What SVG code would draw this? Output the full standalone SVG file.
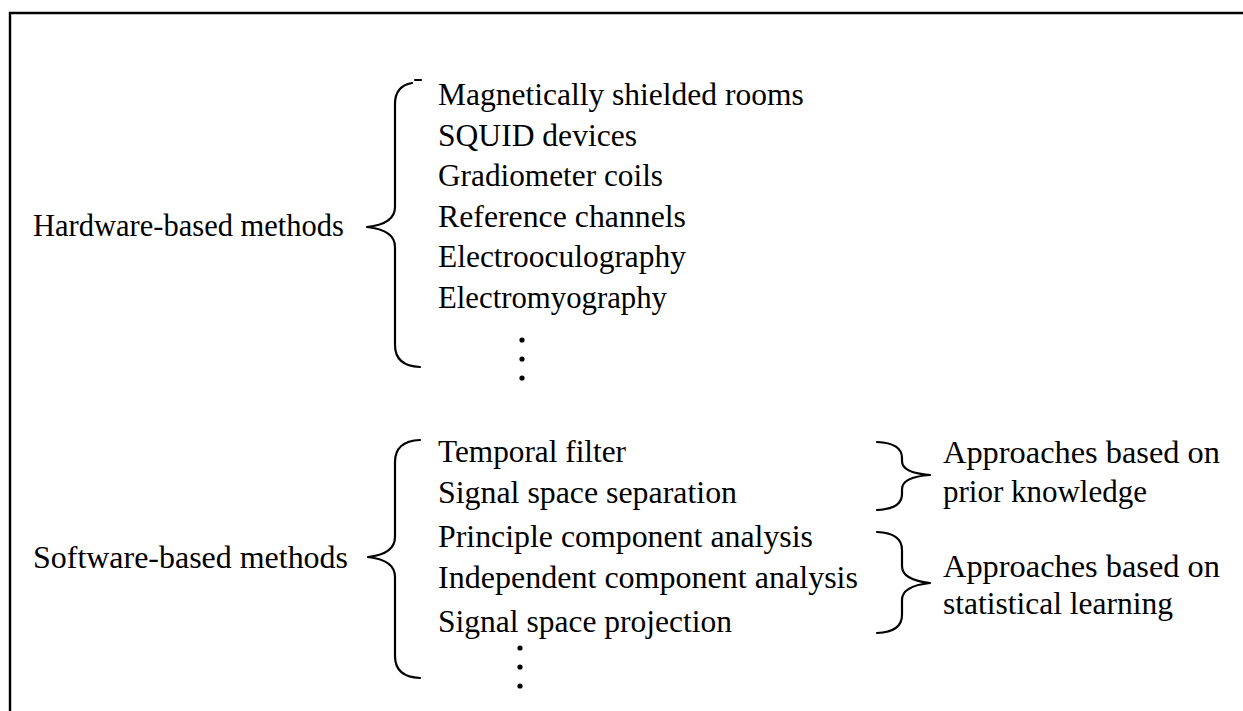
<svg xmlns="http://www.w3.org/2000/svg" width="1243" height="711" viewBox="0 0 1243 711">
<defs>
<style>
.t{font-family:"Liberation Serif","Times New Roman",serif;font-size:31.5px;fill:#000}
.br{fill:none;stroke:#000;stroke-width:2.2;stroke-linecap:round;stroke-linejoin:round}
</style>
</defs>
<rect width="1243" height="711" fill="#fff"/>
<g id="border"><path d="M10,715 V13 H1250" fill="none" stroke="#000" stroke-width="2.4"/></g>
<g id="connectors">
<path class="br" d="M412,83 Q395,86 395,104 L395,207 Q395,224 367,227 Q395,230 395,247 L395,345 Q395,366 420,367"/>
<path class="br" d="M415,80 L421,80"/>
<path class="br" d="M420,440 Q395,441 395,462 L395,537 Q395,554 368,557 Q395,560 395,577 L395,656 Q395,677 420,678"/>
<path class="br" d="M877,442 Q902,443 902,458 L902,461 Q902,473 930,475 Q902,477 902,489 L902,494 Q902,509 877,510"/>
<path class="br" d="M877,532 Q902,533 902,550 L902,566 Q902,580 930,583 Q902,586 902,600 L902,615 Q902,632 877,633"/>
</g>
<g id="hardware-label"><text class="t" x="33" y="236" textLength="311" lengthAdjust="spacingAndGlyphs">Hardware-based methods</text></g>
<g id="hardware-items">
<text class="t" x="438" y="105">Magnetically shielded rooms</text>
<text class="t" x="438" y="145.5" textLength="199" lengthAdjust="spacingAndGlyphs">SQUID devices</text>
<text class="t" x="438" y="186" textLength="225" lengthAdjust="spacingAndGlyphs">Gradiometer  coils</text>
<text class="t" x="438" y="226.5" textLength="248" lengthAdjust="spacingAndGlyphs">Reference channels</text>
<text class="t" x="438" y="267" textLength="248" lengthAdjust="spacingAndGlyphs">Electrooculography</text>
<text class="t" x="438" y="307.5" textLength="229" lengthAdjust="spacingAndGlyphs">Electromyography</text>
<circle cx="522" cy="340" r="2.6"/><circle cx="522" cy="359" r="2.6"/><circle cx="522" cy="378" r="2.6"/>
</g>
<g id="software-label"><text class="t" x="33" y="568" textLength="315" lengthAdjust="spacingAndGlyphs">Software-based methods</text></g>
<g id="software-items">
<text class="t" x="438" y="462" textLength="188" lengthAdjust="spacingAndGlyphs">Temporal  filter</text>
<text class="t" x="438" y="503" textLength="299" lengthAdjust="spacingAndGlyphs">Signal space separation</text>
<text class="t" x="438" y="547" textLength="375" lengthAdjust="spacingAndGlyphs">Principle  component  analysis</text>
<text class="t" x="438" y="588" textLength="420" lengthAdjust="spacingAndGlyphs">Independent component analysis</text>
<text class="t" x="438" y="632" textLength="294" lengthAdjust="spacingAndGlyphs">Signal space projection</text>
<circle cx="520" cy="648" r="2.6"/><circle cx="520" cy="667" r="2.6"/><circle cx="520" cy="686" r="2.6"/>
</g>
<g id="prior-knowledge">
<text class="t" x="943" y="463" textLength="277" lengthAdjust="spacingAndGlyphs">Approaches based on</text>
<text class="t" x="943" y="502" textLength="204" lengthAdjust="spacingAndGlyphs">prior knowledge</text>
</g>
<g id="statistical-learning">
<text class="t" x="943" y="577" textLength="277" lengthAdjust="spacingAndGlyphs">Approaches based on</text>
<text class="t" x="943" y="614" textLength="230" lengthAdjust="spacingAndGlyphs">statistical learning</text>
</g>
</svg>
